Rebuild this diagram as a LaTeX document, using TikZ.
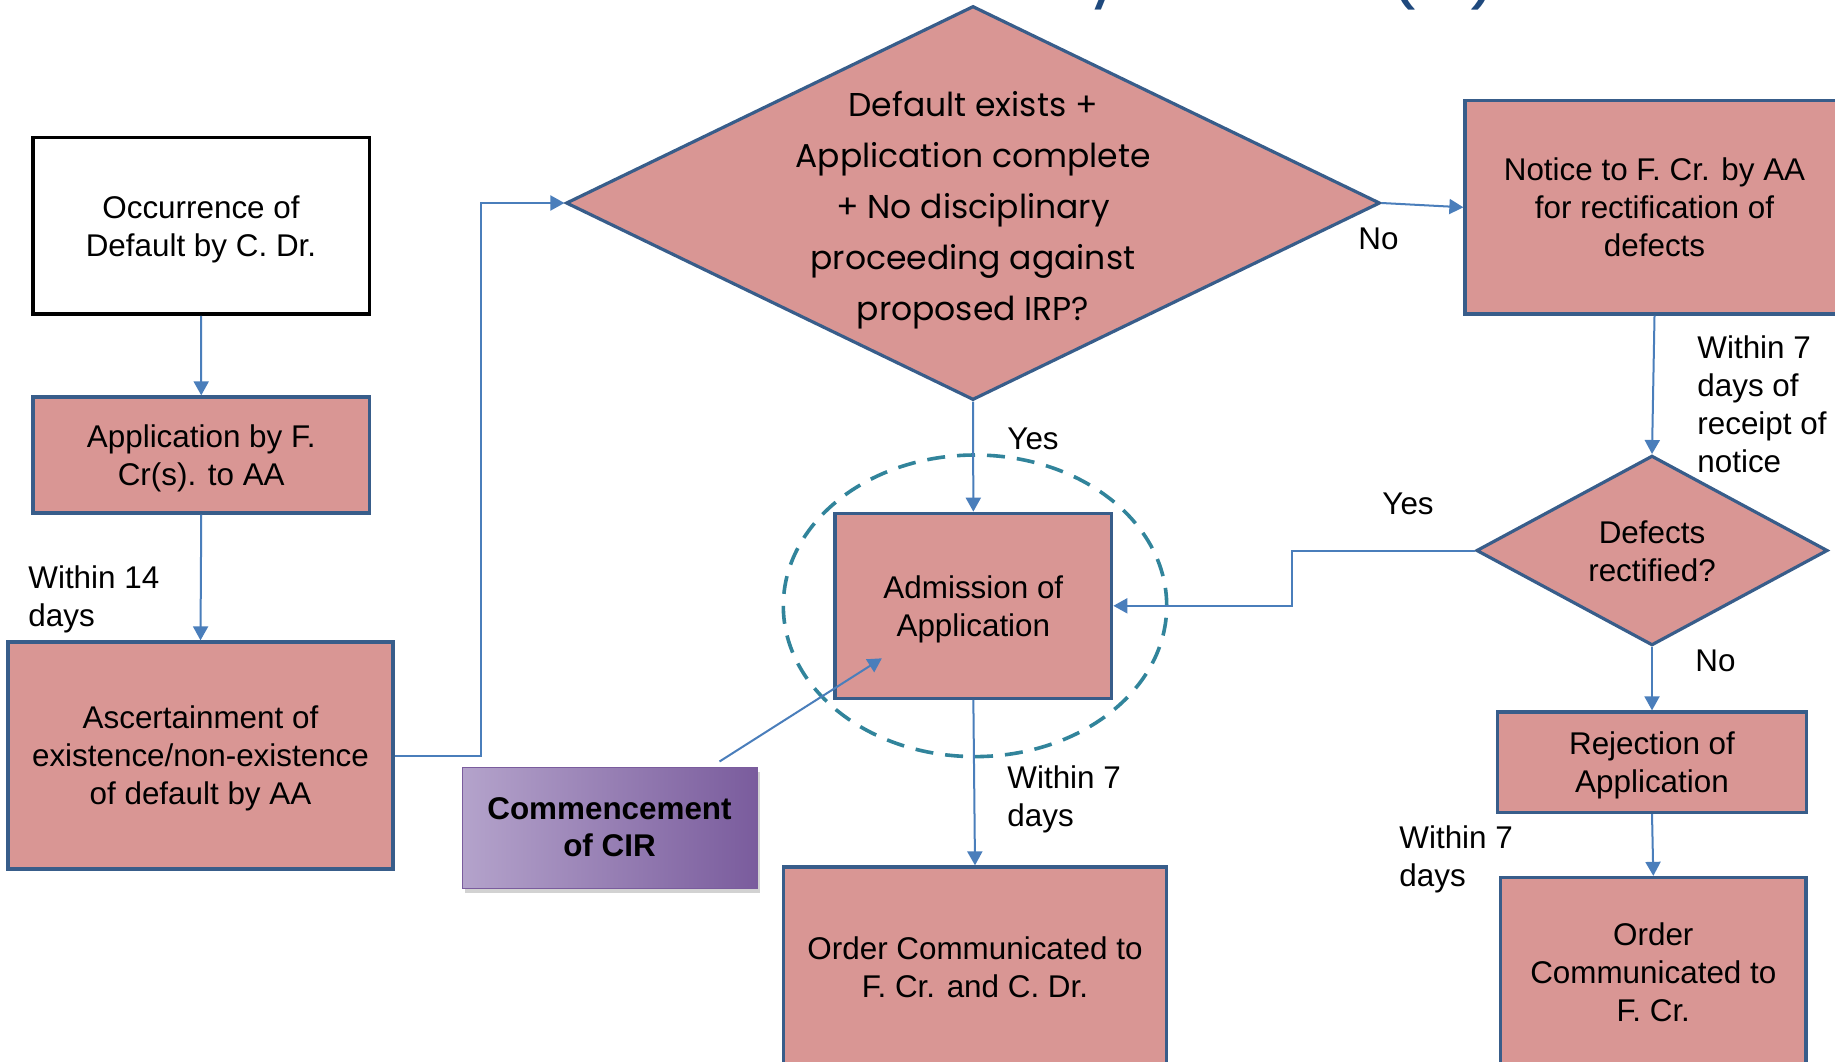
\documentclass[tikz,border=0pt]{standalone}
\usepackage{fontspec}
\setmainfont{Liberation Sans}
\newfontfamily\geofont{Poppins}
\usetikzlibrary{arrows.meta,shapes.geometric,calc,shadows}

\definecolor{boxfill}{HTML}{D99694}
\definecolor{boxline}{HTML}{385D8A}
\definecolor{linkblue}{HTML}{4A7EBB}
\definecolor{ringteal}{HTML}{31849B}
\definecolor{titleblue}{HTML}{1F497D}
\definecolor{cirlight}{HTML}{B4A3CB}
\definecolor{cirdark}{HTML}{7A5C9D}

\tikzset{
  body/.style={font=\fontsize{15.7pt}{19pt}\selectfont, align=center, text=black},
  stepbox/.style={rectangle, draw=boxline, line width=1.65pt, fill=boxfill, inner sep=0pt, text depth=0pt, body},
  startbox/.style={rectangle, draw=black, line width=1.9pt, fill=white, inner sep=0pt, text depth=0pt, body},
  decision/.style={diamond, draw=boxline, line width=1.6pt, fill=boxfill, inner sep=0pt},
  geotext/.style={font=\geofont\fontsize{16.5pt}{25.5pt}\selectfont, align=center, inner sep=0pt, text=black},
  conn/.style={draw=linkblue, line width=1pt, -{Triangle[length=7pt,width=7.5pt]}},
  lbl/.style={body, align=left, inner sep=0pt, anchor=base west},
  ring/.style={ellipse, draw=ringteal, line width=1.8pt, dash pattern=on 9pt off 6pt, inner sep=0pt},
  cirbox/.style={rectangle, draw=cirdark, line width=0.5pt, left color=cirlight, right color=cirdark,
    inner sep=0pt, align=center, font=\fontsize{15.7pt}{18.5pt}\selectfont\bfseries,
    drop shadow={shadow xshift=1.5pt, shadow yshift=-2.5pt, opacity=0.35}},
  titlebit/.style={font=\geofont\fontsize{34pt}{40pt}\selectfont, text=titleblue, inner sep=0pt, anchor=south},
}

\begin{document}
\begin{tikzpicture}[x=0.5pt,y=-0.5pt]
\useasboundingbox (0,0) rectangle (1835,1061);
\clip (0,0) rectangle (1835,1061);
\fill[white] (0,0) rectangle (1835,1061);

% heading, only its lowest strokes fall inside the frame
\node[titlebit] (tY) at (1106,10) {y};
\node[titlebit] (tL) at (1403,11) {(};
\node[titlebit] (tR) at (1484,11) {)};

% highlight ring around the admission step
\node[ring, minimum width=191.7pt, minimum height=150.8pt] (ring) at (975,605.8) {};

% left column
\node[startbox, minimum width=168.4pt, minimum height=88.25pt] (occ) at (201,225.75) {Occurrence of\\Default by C. Dr.};
\node[stepbox, minimum width=168.25pt, minimum height=58pt] (app) at (201.25,455) {Application by F.\\Cr(s). to AA};
\node[stepbox, minimum width=192.5pt, minimum height=113.5pt] (asc) at (200.5,755.5) {Ascertainment of\\existence/non-existence\\of default by AA};

% main decision (the last line of its text sits on the given baseline)
\node[decision, minimum width=407pt, minimum height=197pt] (dia) at (973,203) {};
\node[geotext, anchor=base] (diaT) at (973,320) {Default exists +\\Application complete\\+ No disciplinary\\proceeding against\\proposed IRP?};

% centre column
\node[stepbox, minimum width=138.35pt, minimum height=92.5pt] (adm) at (973.35,605.8) {Admission of\\Application};
\node[stepbox, minimum width=191.7pt, minimum height=100pt] (ord) at (975,967) {Order Communicated to\\F. Cr. and C. Dr.};
\node[cirbox, minimum width=147.5pt, minimum height=60.5pt] (cir) at (609.5,827.5) {Commencement\\of CIR};

% right column
\node[stepbox, minimum width=189.5pt, minimum height=106.65pt] (notice) at (1654.5,207.3) {Notice to F. Cr. by AA\\for rectification of\\defects};
\node[decision, aspect=1.85, minimum width=175.65pt, minimum height=94.9pt] (def) at (1652,550.5) {};
\node[body, inner sep=0pt, anchor=base] (defT) at (1652,581.5) {\fontsize{15.7pt}{18.5pt}\selectfont Defects\\rectified?};
\node[stepbox, minimum width=154.7pt, minimum height=50.2pt] (rej) at (1652,762.2) {Rejection of\\Application};
\node[stepbox, minimum width=152.65pt, minimum height=94.5pt] (ord2) at (1653.3,972) {Order\\Communicated to\\F. Cr.};

% connectors
\draw[conn] (occ.south) -- (app.north);
\draw[conn] (app.south) -- (asc.north);
\draw[conn] (asc.east) -- ++(86.6,0) |- (dia.west);
\draw[conn] (dia.south) -- (adm.north);
\draw[conn] (dia.east) -- (notice.west);
\draw[conn] (notice.south) -- (def.north);
\draw[conn] (def.west) -- ++(-183,0) |- (adm.east);
\draw[conn] (def.south) -- (rej.north);
\draw[conn] (rej.south) -- (ord2.north);
\draw[conn] (adm.south) -- (ord.north);
\coordinate (cirtip) at ($(adm.center)+(-91.5,52.5)$);
\draw[conn] ($(cir.north east)+(-38,-5)$) -- (cirtip);

% connector labels (anchored on the baseline of their last line)
\node[lbl] (l14) at (28,626) {Within 14\\days};
\node[lbl] (lyes) at (1007,449) {Yes};
\node[lbl] (lno) at (1358,249) {No};
\node[lbl] (lnotice) at (1697,472) {Within 7\\days of\\receipt of\\notice};
\node[lbl] (lyes2) at (1382,514) {Yes};
\node[lbl] (lno2) at (1695,671) {No};
\node[lbl] (l7a) at (1007,826) {Within 7\\days};
\node[lbl] (l7b) at (1399,886) {Within 7\\days};
\end{tikzpicture}
\end{document}
